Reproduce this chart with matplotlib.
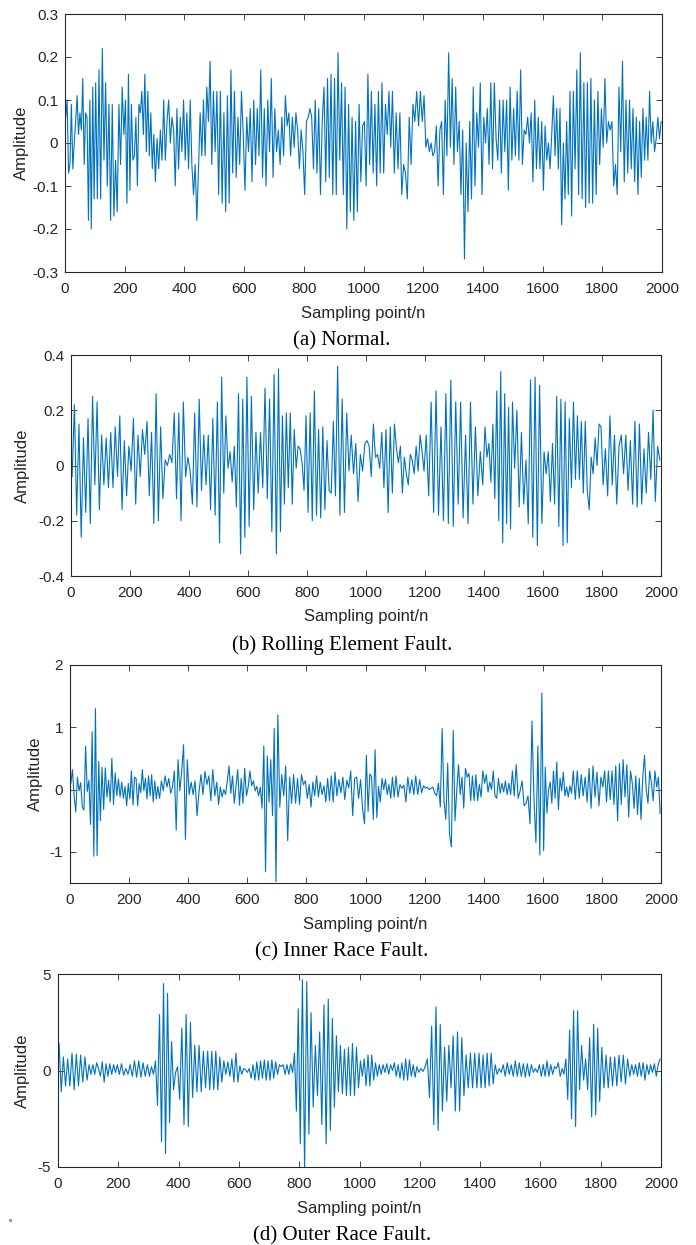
import numpy as np
import matplotlib
matplotlib.use("Agg")
from matplotlib import pyplot as plt
from matplotlib.patches import Rectangle

plt.rcParams["font.family"] = ["Liberation Sans", "DejaVu Sans"]

# values, one inner list per 100-sample block
normal = [
    [0.06, 0.10, -0.07, -0.05, 0.09, -0.06, 0.0, 0.05, 0.11, 0.02, 0.07, 0.03, 0.15, -0.05, 0.07, 0.06, -0.18, 0.10, -0.20, 0.13, -0.13],
    [0.14, -0.13, 0.17, -0.13, 0.22, -0.04, 0.14, -0.10, 0.09, -0.18, 0.09, -0.17, -0.04, -0.16, 0.09, -0.05, 0.13, 0.02],
    [0.10, -0.14, 0.16, -0.11, 0.09, -0.04, -0.03, 0.06, -0.10, 0.09, 0.07, 0.12, 0.02, 0.16, -0.02, 0.12, -0.03, 0.07, -0.06, 0.02],
    [-0.09, 0.01, -0.06, 0.03, -0.04, 0.10, -0.04, 0.05, 0.10, 0.0, 0.06, 0.03, -0.10, 0.08, -0.06, 0.06, -0.02, 0.10],
    [-0.04, 0.07, -0.06, 0.10, -0.05, -0.12, -0.05, -0.18, -0.06, 0.07, -0.03, 0.10, -0.03, 0.13, 0.05, 0.19, -0.05, 0.12],
    [-0.02, 0.12, -0.12, 0.12, -0.14, 0.07, -0.16, 0.11, -0.14, 0.17, -0.07, 0.12, -0.08, 0.06, -0.05, 0.12, 0.02],
    [-0.11, 0.06, -0.02, 0.08, -0.09, 0.10, -0.05, 0.08, -0.03, 0.17, -0.08, 0.08, -0.10, 0.10, -0.02, 0.15, -0.08],
    [0.08, -0.02, 0.03, -0.05, 0.06, -0.03, 0.11, 0.04, 0.07, -0.03, 0.06, -0.01, 0.07, 0.03, -0.06, 0.03, -0.02],
    [-0.12, 0.05, 0.06, 0.08, 0.06, -0.06, 0.10, -0.07, 0.08, -0.12, 0.05, 0.13, -0.09, 0.15, -0.08, 0.16, -0.12],
    [0.15, -0.12, 0.21, -0.04, 0.14, -0.12, 0.13, -0.20, 0.09, -0.16, 0.06, -0.18, 0.05, -0.16, 0.09, -0.09, 0.04],
    [0.05, -0.10, 0.16, -0.05, 0.12, -0.07, 0.09, -0.10, 0.12, -0.07, 0.14, -0.07, 0.09, 0.02, 0.12, -0.01, 0.12],
    [-0.07, 0.07, -0.06, 0.07, -0.12, -0.05, -0.07, -0.13, 0.06, -0.05, 0.09, 0.05, 0.12, 0.04, 0.12, 0.05],
    [0.11, -0.01, 0.01, -0.02, 0.0, -0.03, -0.02, 0.04, -0.10, 0.03, 0.05, -0.12, 0.10, -0.03, 0.21, -0.01, 0.15],
    [-0.05, 0.13, -0.02, 0.05, -0.12, 0.03, -0.27, 0.0, -0.16, 0.05, -0.13, 0.13, -0.10, 0.07, -0.01, 0.14, -0.12],
    [0.06, 0.0, 0.08, -0.05, 0.14, -0.06, 0.14, 0.01, -0.04, 0.10, -0.07, 0.10, -0.02, 0.10, -0.11, 0.13, -0.04],
    [0.08, -0.03, 0.12, -0.04, 0.17, -0.05, 0.03, 0.02, 0.06, 0.0, 0.07, -0.09, 0.10, -0.06, 0.06, -0.06, 0.05],
    [-0.11, 0.04, -0.04, 0.0, -0.06, 0.02, 0.11, -0.03, 0.08, -0.06, 0.08, -0.19, 0.0, -0.13, 0.05, -0.12, 0.12, -0.17],
    [0.12, -0.06, 0.17, -0.12, 0.21, -0.13, 0.14, -0.15, 0.14, -0.14, 0.15, -0.14, 0.10, -0.12, 0.12, -0.05, 0.08],
    [-0.01, 0.15, 0.0, 0.05, 0.03, 0.05, -0.10, -0.05, -0.12, 0.13, -0.02, 0.19, -0.09, 0.10, -0.07, 0.10, -0.06],
    [0.08, -0.09, 0.06, -0.12, 0.05, -0.08, 0.08, -0.04, 0.06, -0.04, 0.12, 0.0, 0.05, -0.02, 0.01, 0.06, 0.01, 0.05],
]

rolling = [
    [-0.04, 0.22, -0.18, 0.15, -0.26, 0.10, -0.17, 0.17, -0.21, 0.25, -0.07, 0.23, -0.16],
    [0.11, -0.07, 0.10, -0.08, 0.12, -0.08, 0.14, -0.04, 0.18, -0.16, 0.09, -0.11, 0.07],
    [-0.02, 0.17, -0.14, 0.11, -0.04, 0.13, 0.04, 0.16, -0.11, 0.12, -0.21, 0.26, -0.20],
    [0.14, -0.12, 0.02, 0.0, 0.04, 0.01, 0.19, -0.12, 0.19, -0.20, 0.23, -0.04, 0.03],
    [-0.02, -0.14, 0.19, -0.15, 0.24, -0.09, 0.11, -0.07, 0.11, -0.16, 0.17, -0.18, 0.23],
    [-0.28, 0.32, -0.10, 0.18, -0.01, 0.05, -0.06, 0.07, -0.15, 0.26, -0.32, 0.24, -0.26, 0.32],
    [-0.22, 0.25, -0.16, 0.12, -0.10, 0.12, -0.08, 0.28, -0.12, 0.24, -0.24, 0.33, -0.32],
    [0.35, -0.24, 0.18, -0.14, 0.19, -0.08, 0.19, -0.14, 0.13, -0.01, 0.07, 0.06, 0.01, -0.09, 0.18],
    [-0.17, 0.19, -0.20, 0.27, -0.18, 0.13, -0.19, 0.14, -0.16, 0.09, -0.09, -0.10, 0.16, -0.11],
    [0.36, -0.18, 0.24, -0.17, 0.19, -0.02, 0.11, -0.03, 0.08, -0.13, 0.04, -0.02, 0.08],
    [0.09, 0.07, -0.04, 0.15, 0.03, 0.04, -0.01, 0.12, -0.08, 0.13, -0.17, 0.14, -0.10, 0.15],
    [0.06, 0.01, 0.07, -0.10, 0.03, -0.03, -0.07, 0.04, 0.02, -0.03, 0.07, -0.02, 0.11, 0.05, -0.02],
    [0.11, -0.11, 0.23, -0.17, 0.27, -0.18, 0.14, -0.20, 0.26, -0.21, 0.31, -0.22],
    [0.23, -0.14, 0.23, -0.19, 0.11, -0.21, 0.23, -0.14, 0.14, -0.11, 0.05, -0.07],
    [0.14, 0.03, 0.08, -0.06, 0.15, -0.12, 0.27, -0.20, 0.34, -0.28, 0.26, -0.21, 0.21, -0.23, 0.23],
    [-0.01, 0.20, -0.15, 0.12, -0.14, 0.02, -0.21, 0.31, -0.26, 0.32, -0.29, 0.29, -0.21],
    [0.05, -0.03, 0.05, -0.13, 0.08, -0.14, 0.25, -0.22, 0.24, -0.29, 0.23, -0.28, 0.17, -0.08],
    [0.23, -0.05, 0.18, -0.05, 0.16, -0.10, 0.16, -0.09, -0.16, 0.03, -0.03, 0.10, 0.0, 0.15, 0.14],
    [-0.07, 0.06, -0.11, 0.18, -0.07, 0.11, -0.14, 0.07, 0.11, -0.03, 0.11, -0.09, 0.09],
    [-0.14, 0.16, -0.15, 0.15, -0.14, 0.06, -0.10, 0.12, -0.05, 0.20, -0.13, 0.07, 0.02],
]

inner = [
    [0.10, 0.32, -0.10, -0.36, 0.20, -0.02, 0.11, -0.28, -0.33, 0.70, -0.03, 0.15, -0.56, 0.93, -1.07, 1.30, -1.06, 0.45],
    [-0.50, 0.36, -0.32, 0.35, -0.12, 0.15, -0.20, 0.50, -0.24, 0.27, -0.10, 0.17, -0.12, 0.12, -0.14, 0.05, -0.26, 0.10],
    [-0.15, 0.30, -0.25, 0.20, 0.18, -0.26, 0.10, -0.05, 0.32, -0.02, 0.18, -0.15, 0.22, -0.10, 0.24, -0.20, 0.14, -0.15, 0.05],
    [-0.14, 0.14, -0.02, 0.22, 0.04, 0.18, -0.06, 0.04, 0.30, -0.65, 0.48, -0.02, 0.30, 0.72, -0.80, 0.48],
    [-0.08, 0.12, -0.08, 0.14, -0.42, -0.03, 0.24, -0.08, 0.29, 0.08, 0.22, -0.18, 0.32, -0.10, 0.12],
    [-0.24, 0.04, -0.12, 0.00, -0.08, 0.14, 0.38, -0.06, 0.22, -0.22, 0.06, 0.32, -0.25, 0.18, -0.22, 0.34, -0.10],
    [0.04, 0.30, 0.06, 0.14, -0.02, 0.05, -0.10, 0.04, -0.30, 0.70, -1.32, 0.54, -0.20, 0.48, -0.42, 0.98, -1.48],
    [1.20, -0.28, 0.24, -0.10, 0.38, -0.82, 0.20, -0.22, 0.24, -0.22, 0.18, -0.24, 0.24, 0.08, 0.14],
    [-0.14, 0.08, -0.28, 0.12, -0.10, 0.22, -0.12, 0.12, -0.08, 0.06, -0.20, 0.18, -0.18, 0.22, -0.20, 0.28],
    [-0.10, 0.16, -0.05, 0.20, -0.16, 0.15, 0.03, 0.30, -0.42, 0.18, 0.20, -0.14, 0.16, -0.30, -0.55],
    [0.55, -0.35, 0.25, 0.20, -0.48, 0.64, -0.45, 0.05, -0.20, 0.18, 0.0, 0.16, -0.08, 0.08, -0.14, 0.20, -0.12],
    [0.22, -0.12, 0.08, 0.02, 0.07, -0.20, 0.20, -0.06, 0.16, -0.08, 0.22, -0.08, 0.16, -0.05, 0.06],
    [0.02, 0.04, 0.0, 0.02, 0.04, -0.06, -0.10, 0.10, -0.28, 0.98, -0.18, -0.48, 0.42, -0.72, -0.92, 0.95],
    [-0.50, -0.02, 0.40, -0.08, 0.20, -0.30, 0.34, 0.20, 0.26, -0.18, 0.22, -0.18, 0.24, -0.18, 0.08, -0.12, 0.30],
    [0.10, 0.24, -0.04, 0.12, 0.0, 0.30, -0.10, -0.14, 0.18, -0.06, 0.10, -0.04, 0.14, -0.08, 0.10, -0.08, 0.30],
    [-0.10, 0.40, -0.14, -0.02, 0.14, -0.26, -0.22, -0.10, -0.55, 1.10, -0.14, -0.85, 0.70, -1.05, 1.55],
    [-0.98, 0.36, -0.38, 0.0, 0.12, -0.22, 0.30, -0.14, 0.44, -0.32, 0.18, -0.02, 0.28, -0.10, 0.04, -0.12, 0.06, -0.06],
    [0.30, -0.16, 0.30, -0.14, 0.24, -0.10, 0.20, -0.20, 0.34, -0.30, 0.38, -0.12, 0.28, -0.26, 0.20],
    [0.04, 0.30, -0.20, 0.30, -0.16, 0.30, -0.24, 0.38, -0.50, 0.42, -0.24, 0.48, -0.12, 0.40, -0.44, 0.30],
    [0.10, -0.30, 0.22, -0.40, 0.18, -0.48, 0.20, 0.55, 0.0, -0.22, 0.30, 0.10, -0.18, 0.30, 0.04, 0.20, -0.38],
]

outer = [
    [1.4, -1.1, 0.7, -0.8, 0.6, -0.8, 0.9, -1.0, 0.85, -0.8, 0.8, -0.6, 0.7, -0.5],
    [0.3, -0.2, 0.3, -0.2, 0.4, 0.1, -0.3, 0.45, -0.6, 0.35, -0.3, 0.35, -0.2, 0.3, -0.1, 0.3],
    [-0.2, 0.35, -0.25, 0.1, -0.2, 0.3, -0.3, 0.5, -0.35, 0.5, -0.35, 0.4, -0.3, 0.3],
    [-0.3, 0.2, -0.2, 0.5, -1.8, 2.9, -3.7, 4.5, -4.3, 4.0, -2.7, 1.5, -1.0, -0.1, 0.2],
    [-1.5, 2.2, -2.8, 2.9, -2.9, 2.5, -1.4, 1.3, -1.1, 1.3, -1.1, 1.0, -0.9, 1.0],
    [-1.0, 1.0, -1.0, 1.0, -1.0, 0.7, -0.6, 0.5, -0.2, 0.45, -0.3, 0.6, -0.6, 0.9, -0.6],
    [0.25, -0.2, 0.1, 0.05, -0.1, 0.1, -0.4, 0.3, -0.5, 0.45, -0.5, 0.5, -0.4, 0.55, -0.5, 0.5],
    [-0.5, 0.55, -0.4, 0.45, -0.2, 0.3, 0.2, 0.3, -0.2, 0.3, -0.2, 0.35, -0.1, 0.9, -2.1, 3.2],
    [-3.8, 4.7, -5.2, 4.6, -3.3, 3.0, -1.9, 1.3, -1.3, 2.0, -2.8, 3.4, -3.8, 3.7],
    [-3.1, 2.7, -1.9, 1.8, -1.1, 1.3, -1.2, 1.1, -1.3, 1.2, -1.3, 1.4, -1.3, 1.2, -0.9],
    [0.5, -0.3, 0.6, -0.8, 0.8, -0.8, 0.8, -0.5, 0.4, -0.3, 0.3, -0.2, 0.3, -0.1, 0.35, -0.2],
    [0.3, 0.0, 0.4, -0.3, 0.3, -0.4, 0.4, -0.5, 0.6, -0.5, 0.55, -0.3, 0.3, -0.35, 0.2, -0.1],
    [0.1, -0.05, 0.2, 0.6, -1.4, 2.3, -2.8, 3.3, -3.1, 2.4, -2.1, 1.2, -1.6, 1.3],
    [-0.9, 1.8, -2.1, 2.0, -2.1, 1.7, -1.3, 0.8, -0.9, 0.9, -0.9, 0.9, -0.9, 0.9],
    [-0.9, 0.8, -0.9, 0.9, -0.8, 0.9, -0.7, 0.3, -0.2, 0.1, -0.1, 0.3, -0.3, 0.4, -0.2],
    [0.3, -0.3, 0.5, -0.3, 0.4, -0.3, 0.35, -0.35, 0.35, -0.3, 0.3, -0.1, 0.1, -0.1, 0.3],
    [-0.3, 0.3, -0.3, 0.5, -0.3, 0.3, -0.2, 0.2, 0.1, 0.4, -0.3, 0.1, -0.2, 0.6, -1.5, 2.1],
    [-2.5, 3.1, -2.9, 3.1, -1.0, 1.3, -0.5, 0.6, -1.0, 1.7, -2.4, 2.4, -2.3, 2.2, -1.6],
    [1.2, -0.9, 0.8, -0.9, 0.7, -0.8, 0.7, -0.8, 0.8, -0.6, 0.8, -0.7, 0.6, -0.3],
    [0.3, -0.2, 0.3, -0.3, 0.4, -0.3, 0.4, -0.5, 0.3, -0.2, 0.3, -0.1, 0.35, -0.3, 0.3, 0.6],
]

signals = [normal, rolling, inner, outer]
captions = ["(a) Normal.", "(b) Rolling Element Fault.", "(c) Inner Race Fault.", "(d) Outer Race Fault."]
ylims = [(-0.3, 0.3), (-0.4, 0.4), (-1.5, 2), (-5, 5)]
yticks = [
    [-0.3, -0.2, -0.1, 0, 0.1, 0.2, 0.3],
    [-0.4, -0.2, 0, 0.2, 0.4],
    [-1, 0, 1, 2],
    [-5, 0, 5],
]
ytick_labels = [
    ["-0.3", "-0.2", "-0.1", "0", "0.1", "0.2", "0.3"],
    ["-0.4", "-0.2", "0", "0.2", "0.4"],
    ["-1", "0", "1", "2"],
    ["-5", "0", "5"],
]
xticks = list(range(0, 2001, 200))
xtick_labels = [str(t) for t in xticks]

# axes boxes in pixels: left, top, right, bottom  (figure is 696 x 1245)
boxes = [(65, 14, 662, 272), (71, 355, 661, 576), (70, 665, 661, 883), (58, 974, 661, 1167)]
ylabel_x = [21, 22, 35, 22]

W, H = 696, 1245
LINE = "#0072BD"
DARK = "#262626"


def block_xy(blocks, width=100):
    xs, ys = [], []
    for k, vals in enumerate(blocks):
        n = len(vals)
        for i, v in enumerate(vals):
            xs.append(k * width + (i + 0.5) * width / n)
            ys.append(v)
    return np.array(xs), np.array(ys)


fig = plt.figure(figsize=(W / 100, H / 100), dpi=100)

for i, sig in enumerate(signals):
    l, t, r, b = boxes[i]
    ax = fig.add_axes([l / W, 1 - b / H, (r - l) / W, (b - t) / H])
    x, y = block_xy(sig)
    ax.plot(x, y, color=LINE, lw=0.8)
    ax.set_xlim(0, 2000)
    ax.set_ylim(*ylims[i])
    ax.set_xticks(xticks)
    ax.set_xticklabels(xtick_labels)
    ax.set_yticks(yticks[i])
    ax.set_yticklabels(ytick_labels[i])
    ax.tick_params(direction="in", top=True, right=True, length=4, width=0.6,
                   color=DARK, labelcolor=DARK, labelsize=11)
    ax.tick_params(axis="x", pad=7)
    ax.tick_params(axis="y", pad=5)
    for s in ax.spines.values():
        s.set_color(DARK)
        s.set_linewidth(0.8)

    fig.text(ylabel_x[i] / W, 1 - (t + b) / 2 / H, "Amplitude", rotation=90,
             ha="center", va="center", fontsize=12, color=DARK)
    fig.text((l + r) / 2 / W, 1 - (b + 41) / H, "Sampling point/n",
             ha="center", va="center", fontsize=12, color=DARK)
    fig.text(342 / W, 1 - (b + 69) / H, captions[i], ha="center", va="center",
             fontsize=15, family=["Liberation Serif", "DejaVu Serif"], color="black")

# small grey speck left of the last caption in the source image
fig.patches.append(Rectangle((9 / W, 1 - 1222 / H), 3 / W, 3 / H, transform=fig.transFigure,
                             facecolor="#9a9a9a", edgecolor="none"))

fig.savefig("out.png", dpi=100)
